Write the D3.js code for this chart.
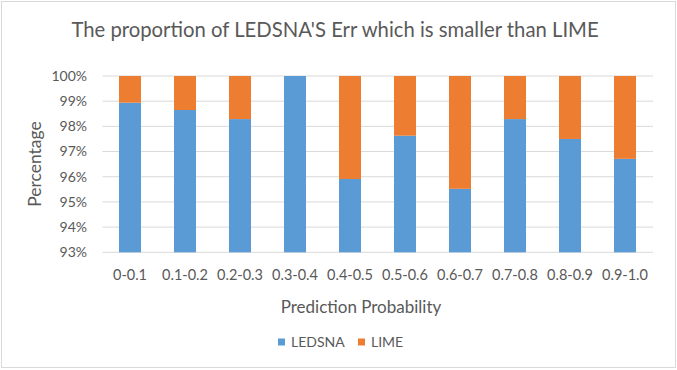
<!DOCTYPE html>
<html>
<head>
<meta charset="utf-8">
<script src="https://cdn.jsdelivr.net/npm/d3@7"></script>
<style>
  body { margin: 0; background: #fff; }
  text { font-family: Lato, "Open Sans", sans-serif; fill: #595959; }
</style>
</head>
<body>
<svg id="chart" width="677" height="370"></svg>
<script>
const categories = ["0-0.1", "0.1-0.2", "0.2-0.3", "0.3-0.4", "0.4-0.5", "0.5-0.6", "0.6-0.7", "0.7-0.8", "0.8-0.9", "0.9-1.0"];
const ledsna = [98.94, 98.65, 98.29, 100, 95.91, 97.63, 95.52, 98.29, 97.5, 96.71];
const lime = [1.06, 1.35, 1.71, 0, 4.09, 2.37, 4.48, 1.71, 2.5, 3.29];
const yTicks = [93, 94, 95, 96, 97, 98, 99, 100];
const seriesNames = ["LEDSNA", "LIME"];
const colors = ["#5B9BD5", "#ED7D31"];

const width = 677, height = 370;
const margins = { top: 76, right: 24, bottom: 118, left: 102.5 };
const svg = d3.select("#chart");

// chart border
svg.append("rect")
    .attr("x", 1.5).attr("y", 1.5)
    .attr("width", width - 3).attr("height", height - 4)
    .attr("fill", "#fff").attr("stroke", "#d9d9d9");

const rows = categories.map((c, i) => ({ cat: c, LEDSNA: ledsna[i], LIME: lime[i] }));
const stacked = d3.stack().keys(seriesNames)(rows);

const x = d3.scaleBand()
    .domain(categories)
    .range([margins.left, width - margins.right - 0.5])
    .paddingInner(0.6)
    .paddingOuter(0.3);

const y = d3.scaleLinear()
    .domain([93, 100])
    .range([height - margins.bottom + 0.3, margins.top]);

// gridlines
svg.append("g")
    .selectAll("line")
    .data(yTicks)
    .join("line")
    .attr("x1", margins.left).attr("x2", width - margins.right)
    .attr("y1", d => y(d)).attr("y2", d => y(d))
    .attr("stroke", "#d9d9d9").attr("stroke-width", 1);

// y tick labels
svg.append("g")
    .selectAll("text")
    .data(yTicks)
    .join("text")
    .attr("x", 87).attr("y", d => y(d))
    .attr("dy", "0.35em")
    .attr("text-anchor", "end")
    .attr("font-size", "14px")
    .text(d => d + "%");

// bars: stack base clipped at axis minimum
svg.append("g")
    .selectAll("g")
    .data(stacked)
    .join("g")
    .attr("fill", (d, i) => colors[i])
    .selectAll("rect")
    .data(d => d)
    .join("rect")
    .attr("x", d => x(d.data.cat))
    .attr("width", x.bandwidth())
    .attr("y", d => y(d[1]))
    .attr("height", d => Math.max(0, y(Math.max(d[0], 93)) - y(d[1])));

// x tick labels
svg.append("g")
    .selectAll("text")
    .data(categories)
    .join("text")
    .attr("x", d => x(d) + x.bandwidth() / 2)
    .attr("y", 275)
    .attr("dy", "0.35em")
    .attr("text-anchor", "middle")
    .attr("font-size", "14.5px")
    .text(d => d);

// title
svg.append("text")
    .attr("x", 335).attr("y", 30)
    .attr("dy", "0.35em")
    .attr("text-anchor", "middle")
    .attr("font-size", "20.3px")
    .text("The proportion of LEDSNA'S Err which is smaller than LIME");

// axis titles
svg.append("text")
    .attr("x", 361).attr("y", 307)
    .attr("dy", "0.35em")
    .attr("text-anchor", "middle")
    .attr("font-size", "17px")
    .text("Prediction Probability");

svg.append("text")
    .attr("transform", "translate(35,164) rotate(-90)")
    .attr("dy", "0.35em")
    .attr("text-anchor", "middle")
    .attr("font-size", "17.5px")
    .text("Percentage");

// legend
const legendX = [278, 358];
const legend = svg.append("g")
    .selectAll("g")
    .data(seriesNames)
    .join("g")
    .attr("transform", (d, i) => `translate(${legendX[i]}, 342)`);
legend.append("rect")
    .attr("x", 0).attr("y", -3.5)
    .attr("width", 7).attr("height", 7)
    .attr("fill", (d, i) => colors[i]);
legend.append("text")
    .attr("x", 13).attr("y", 0)
    .attr("dy", "0.35em")
    .attr("font-size", "14px")
    .text(d => d);
</script>
</body>
</html>
